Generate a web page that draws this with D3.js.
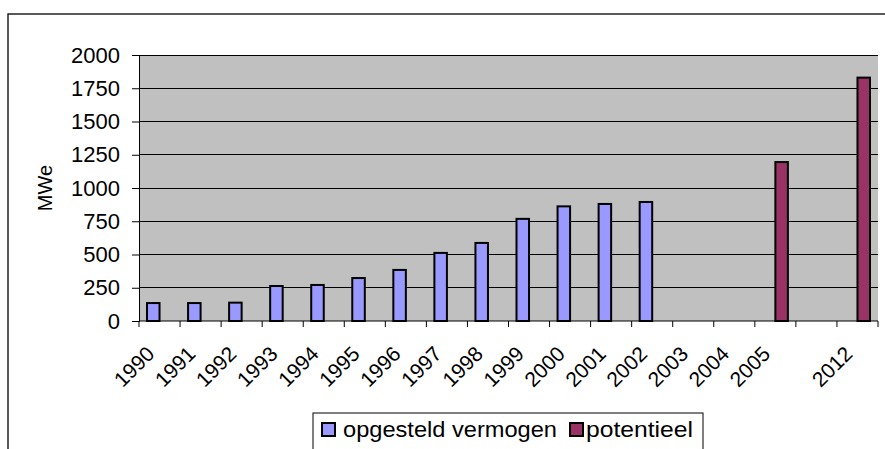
<!DOCTYPE html>
<html><head><meta charset="utf-8">
<script src="https://cdn.jsdelivr.net/npm/d3@7"></script>
<style>body{margin:0;background:#fff}svg{display:block;font-family:"Liberation Sans",Arial,sans-serif}</style>
</head><body><svg id="c" width="885" height="449"></svg>
<script>
const categories = ["1990","1991","1992","1993","1994","1995","1996","1997","1998","1999","2000","2001","2002","2003","2004","2005","","2012"];
const opgesteld = [135,135,138,263,271,323,384,512,587,768,862,880,895,null,null,null,null,null];
const potentieel = [null,null,null,null,null,null,null,null,null,null,null,null,null,null,null,1195,null,1830];
const seriesNames = ["opgesteld vermogen","potentieel"];
const colors = ["#9999FF","#993366"];
const yTicks = [0,250,500,750,1000,1250,1500,1750,2000];

const svg = d3.select("#c");
const L = 139, R = 878, T = 55, B = 321;

// outer chart frame
svg.append("rect").attr("x",8).attr("y",14).attr("width",900).attr("height",460)
  .attr("fill","#fff").attr("stroke","#000").attr("stroke-width",1.3);

const x = d3.scaleBand().domain(d3.range(categories.length)).range([L,R]).paddingInner(0).paddingOuter(0);
const y = d3.scaleLinear().domain([0,2000]).range([B,T]);
const inner = d3.scaleBand().domain([0,1]).range([8, x.bandwidth()-8]);

svg.append("rect").attr("x",L).attr("y",T).attr("width",R-L).attr("height",B-T).attr("fill","#C0C0C0");

svg.append("g").selectAll("line").data(yTicks.slice(1)).join("line")
  .attr("x1",L).attr("x2",R).attr("y1",d=>y(d)).attr("y2",d=>y(d))
  .attr("stroke","#000").attr("stroke-width",1).attr("shape-rendering","crispEdges");

const yAxis = svg.append("g").attr("transform",`translate(${L},0)`)
  .call(d3.axisLeft(y).tickValues(yTicks).tickSize(7).tickPadding(12).tickFormat(d3.format("d")));
yAxis.select(".domain").attr("stroke","#000");
yAxis.selectAll(".tick line").attr("stroke","#000");
yAxis.selectAll("text").attr("font-size",22).attr("fill","#000").attr("font-family","Liberation Sans, Arial, sans-serif");

// x axis line and ticks at band boundaries
const bounds = d3.range(categories.length+1).map(i => i===categories.length ? R : x(i));
svg.append("line").attr("x1",L).attr("x2",R).attr("y1",B).attr("y2",B).attr("stroke","#000");
svg.append("g").selectAll("line").data(bounds).join("line")
  .attr("x1",d=>d).attr("x2",d=>d).attr("y1",B).attr("y2",B+6).attr("stroke","#000");

svg.append("g").selectAll("text").data(categories.map((c,i)=>({c,i})).filter(d=>d.c)).join("text")
  .attr("transform",d=>`translate(${x(d.i)+x.bandwidth()/2-9},${B+29}) rotate(-45)`)
  .attr("text-anchor","end").attr("dy","0.35em").attr("font-size",21).attr("fill","#000")
  .text(d=>d.c);

const series = [opgesteld, potentieel];
series.forEach((vals,s)=>{
  svg.append("g").selectAll("rect").data(vals.map((v,i)=>({v,i})).filter(d=>d.v!=null)).join("rect")
    .attr("x",d=>x(d.i)+inner(s)).attr("width",inner.bandwidth())
    .attr("y",d=>y(d.v)).attr("height",d=>y(0)-y(d.v))
    .attr("fill",colors[s]).attr("stroke","#000").attr("stroke-width",2);
});

svg.append("text").attr("transform","translate(52,188) rotate(-90)").attr("text-anchor","middle")
  .attr("font-size",20).attr("fill","#000").text("MWe");

// legend
const lg = svg.append("g");
lg.append("rect").attr("x",313).attr("y",413).attr("width",390).attr("height",60)
  .attr("fill","#fff").attr("stroke","#000").attr("stroke-width",1);
const legendX = [[322,343,214],[570,586,107]];
seriesNames.forEach((n,s)=>{
  lg.append("rect").attr("x",legendX[s][0]).attr("y",423).attr("width",13).attr("height",13)
    .attr("fill",colors[s]).attr("stroke","#000").attr("stroke-width",2);
  lg.append("text").attr("x",legendX[s][1]).attr("y",437).attr("font-size",22).attr("fill","#000")
    .attr("textLength",legendX[s][2]).attr("lengthAdjust","spacingAndGlyphs").text(n);
});
</script></body></html>
